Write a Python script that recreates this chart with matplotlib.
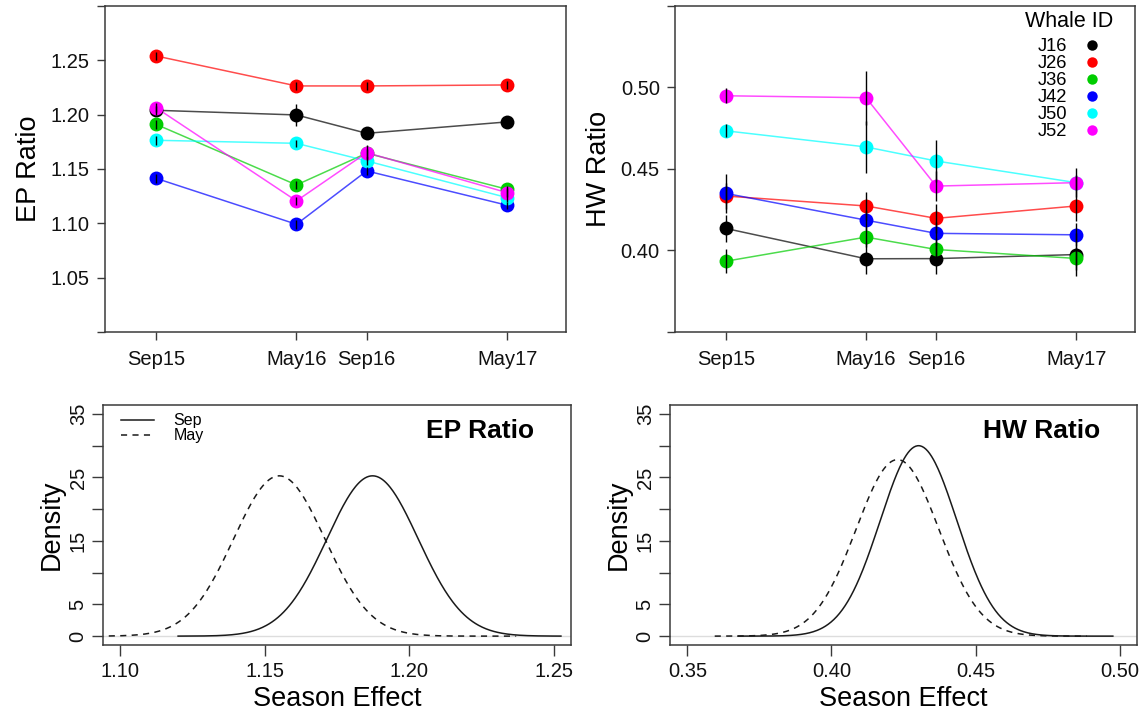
import numpy as np
import matplotlib.pyplot as plt
from matplotlib.lines import Line2D

plt.rcParams['font.family'] = ['Liberation Sans', 'DejaVu Sans']

# sampling occasions, as months since Sep 2015
occasions = ['Sep15', 'May16', 'Sep16', 'May17']
months = [0, 8, 12, 20]

whales = ['J16', 'J26', 'J36', 'J42', 'J50', 'J52']
whale_colors = ['black', '#FF0000', '#00CD00', '#0000FF', '#00FFFF', '#FF00FF']

# eye-patch ratio per whale (mean, +/- error)
ep_mean = {
    'J16': [1.204, 1.1997, 1.1828, 1.1933],
    'J26': [1.254, 1.2264, 1.2264, 1.2273],
    'J36': [1.1911, 1.1353, 1.1645, 1.1313],
    'J42': [1.1414, 1.0991, 1.1482, 1.1166],
    'J50': [1.1764, 1.1736, 1.1574, 1.1236],
    'J52': [1.2064, 1.1206, 1.165, 1.1282],
}
ep_err = {
    'J16': [0.004, 0.010, 0.003, 0.003],
    'J26': [0.004, 0.004, 0.004, 0.004],
    'J36': [0.004, 0.004, 0.004, 0.003],
    'J42': [0.004, 0.004, 0.004, 0.003],
    'J50': [0.004, 0.003, 0.004, 0.004],
    'J52': [0.004, 0.004, 0.007, 0.004],
}

# head-width ratio per whale
hw_mean = {
    'J16': [0.4135, 0.3949, 0.395, 0.3975],
    'J26': [0.4334, 0.4273, 0.4197, 0.4273],
    'J36': [0.3934, 0.4082, 0.4006, 0.3951],
    'J42': [0.435, 0.4186, 0.4105, 0.4096],
    'J50': [0.4734, 0.4635, 0.4549, 0.4416],
    'J52': [0.4949, 0.4937, 0.4395, 0.4416],
}
hw_err = {
    'J16': [0.008, 0.0095, 0.0095, 0.013],
    'J26': [0.008, 0.0086, 0.009, 0.009],
    'J36': [0.0075, 0.006, 0.007, 0.007],
    'J42': [0.012, 0.006, 0.007, 0.007],
    'J50': [0.004, 0.0158, 0.013, 0.005],
    'J52': [0.0045, 0.0165, 0.009, 0.009],
}

# posterior season effects: mean, sd, plotted range
ep_sep = dict(mean=1.1873, sd=0.0158, lo=1.120, hi=1.2525)
ep_may = dict(mean=1.155, sd=0.0158, lo=1.096, hi=1.237)
hw_sep = dict(mean=0.4302, sd=0.0133, lo=0.3676, hi=0.4976)
hw_may = dict(mean=0.4229, sd=0.01435, lo=0.3595, hi=0.4886)

TICK_FS = 14.5
LAB_FS = 19.5
AXCOL = '#3a3a3a'


def style_box(ax):
    for s in ax.spines.values():
        s.set_color(AXCOL)
        s.set_linewidth(1.1)
    ax.tick_params(direction='out', length=6, width=1, color=AXCOL,
                   labelsize=TICK_FS, labelcolor='#111111', pad=5)


def whale_panel(ax, means, errs, ylim, yticks, ylab):
    for w, c in zip(whales, whale_colors):
        ax.plot(months, means[w], '-', color=c, lw=1.1, alpha=0.7, zorder=2)
        ax.plot(months, means[w], 'o', color=c, ms=10, mec='none', zorder=3)
        ax.errorbar(months, means[w], yerr=errs[w], fmt='none',
                    ecolor='black', elinewidth=1, capsize=0, zorder=4)
    ax.set_xlim(-2.9, 23.35)
    ax.set_ylim(*ylim)
    ax.set_xticks(months)
    ax.set_xticklabels(occasions)
    ax.set_yticks(yticks)
    ax.set_yticklabels([''] + ['%.2f' % v for v in yticks[1:-1]] + [''])
    ax.set_ylabel(ylab, fontsize=LAB_FS, labelpad=6)
    style_box(ax)
    ax.tick_params(axis='x', pad=7)


def normal_pdf(x, m, s):
    return np.exp(-0.5 * ((x - m) / s) ** 2) / (s * np.sqrt(2 * np.pi))


def density_panel(ax, sep, may, xlim, xticks, title, legend=False):
    ax.axhline(0, color='#dddddd', lw=1, zorder=1)
    xs = np.linspace(sep['lo'], sep['hi'], 400)
    xm = np.linspace(may['lo'], may['hi'], 400)
    ax.plot(xs, normal_pdf(xs, sep['mean'], sep['sd']), '-', color='#1a1a1a',
            lw=1.1, label='Sep', zorder=3)
    ax.plot(xm, normal_pdf(xm, may['mean'], may['sd']), '--', color='#1a1a1a',
            lw=1.1, dashes=(4, 3.5), label='May', zorder=3)
    pad = 0.04 * (xlim[1] - xlim[0])
    ax.set_xlim(xlim[0] - pad, xlim[1] + pad)
    ax.set_ylim(-1.4, 36.4)
    ax.set_xticks(xticks)
    ax.set_xticklabels(['%.2f' % v for v in xticks])
    yt = np.arange(0, 36, 5)
    ax.set_yticks(yt)
    ax.set_yticklabels(['0', '5', '', '15', '', '25', '', '35'],
                       rotation=90, va='center')
    ax.set_xlabel('Season Effect', fontsize=LAB_FS, labelpad=4)
    ax.set_ylabel('Density', fontsize=LAB_FS, labelpad=3)
    style_box(ax)
    ax.tick_params(axis='y', length=8, pad=3)
    ax.tick_params(axis='x', length=8, pad=4)
    ax.text(0.921, 0.892, title, transform=ax.transAxes, ha='right',
            va='center', fontsize=19, fontweight='bold')
    if legend:
        ax.legend(loc='upper left', bbox_to_anchor=(0.038, 0.965), frameon=False,
                  fontsize=11.5, handlelength=2.1, handletextpad=1.2,
                  labelspacing=0.0, borderpad=0, borderaxespad=0)


fig = plt.figure(figsize=(11.43, 7.17), dpi=100)

ax1 = fig.add_axes([0.0919, 0.537, 0.4033, 0.4547])
ax2 = fig.add_axes([0.5906, 0.537, 0.4024, 0.4547])
ax3 = fig.add_axes([0.0901, 0.1004, 0.4095, 0.3347])
ax4 = fig.add_axes([0.5862, 0.1004, 0.4086, 0.3347])

whale_panel(ax1, ep_mean, ep_err, (1.0, 1.30),
            [1.00, 1.05, 1.10, 1.15, 1.20, 1.25, 1.30], 'EP Ratio')
whale_panel(ax2, hw_mean, hw_err, (0.35, 0.55),
            [0.35, 0.40, 0.45, 0.50, 0.55], 'HW Ratio')

handles = [Line2D([], [], ls='none', marker='o', ms=7.5, color=c, mec='none')
           for c in whale_colors]
leg = ax2.legend(handles, whales, title='Whale ID', loc='upper right',
                 bbox_to_anchor=(0.953, 0.983), frameon=False, markerfirst=False,
                 fontsize=13.2, title_fontsize=15.5, handlelength=1.0,
                 handletextpad=0.85, labelspacing=0.0, borderpad=0,
                 borderaxespad=0)
leg._legend_box.sep = 4

density_panel(ax3, ep_sep, ep_may, (1.10, 1.25), [1.10, 1.15, 1.20, 1.25],
              'EP Ratio', legend=True)
density_panel(ax4, hw_sep, hw_may, (0.35, 0.50), [0.35, 0.40, 0.45, 0.50],
              'HW Ratio')

fig.savefig('out.png', dpi=100)
